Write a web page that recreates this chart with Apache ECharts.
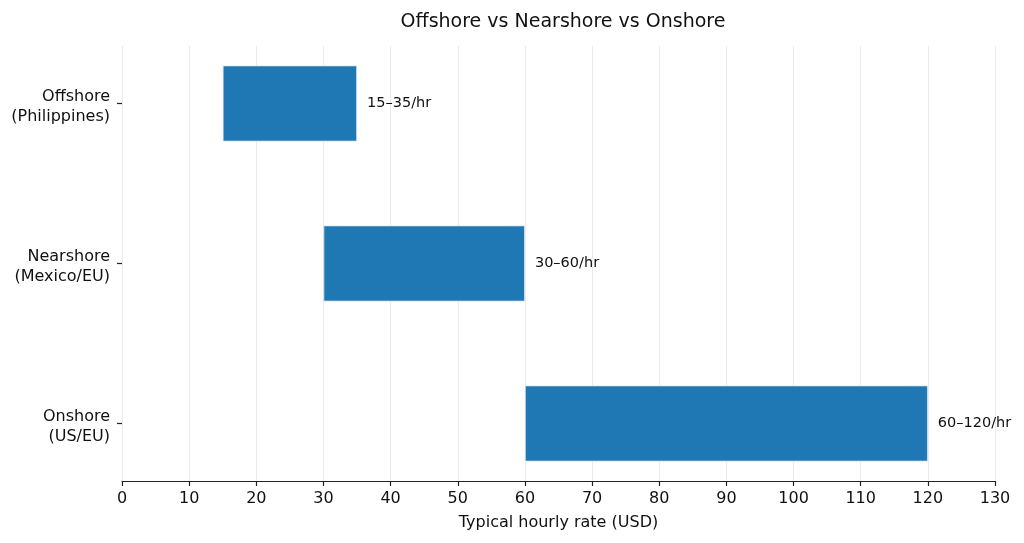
<!DOCTYPE html>
<html>
<head>
<meta charset="utf-8">
<script src="https://cdn.jsdelivr.net/npm/echarts@6/dist/echarts.min.js"></script>
<style>
  html, body { margin: 0; padding: 0; background: #fff; }
  #chart { width: 1024px; height: 543px; }
</style>
</head>
<body>
<div id="chart"></div>
<script>
// categories (top to bottom) and rate ranges in USD/hr
var categories = ["Offshore\n(Philippines)", "Nearshore\n(Mexico/EU)", "Onshore\n(US/EU)"];
var rateLow = [15, 30, 60];
var rateHigh = [35, 60, 120];
var rangeLabels = ["15–35/hr", "30–60/hr", "60–120/hr"];
var xTicks = { min: 0, max: 130, interval: 10 };

var FONT = "DejaVu Sans";
var spans = rateHigh.map(function (h, i) { return h - rateLow[i]; });

var chart = echarts.init(document.getElementById("chart"), null, { renderer: "canvas" });

var option = {
  animation: false,
  backgroundColor: "#ffffff",
  title: {
    text: "Offshore vs Nearshore vs Onshore",
    left: 558,
    top: 8,
    textAlign: "center",
    textStyle: { fontFamily: FONT, fontSize: 19, fontWeight: "normal", color: "#111" }
  },
  grid: [
    // grid 0: the visible x axis + vertical grid lines
    { left: 122, right: 29, top: 46, height: 435, containLabel: false },
    // grid 1: category band layout for the bars (160px per category)
    { left: 122, right: 29, top: 23.5, height: 480, containLabel: false },
    // grid 2: same bands, nudged down a little, only for the y labels
    { left: 122, right: 29, top: 27, height: 480, containLabel: false }
  ],
  xAxis: [
    {
      gridIndex: 0, type: "value",
      min: xTicks.min, max: xTicks.max, interval: xTicks.interval,
      name: "Typical hourly rate (USD)",
      nameLocation: "middle", nameGap: 34,
      nameTextStyle: { fontFamily: FONT, fontSize: 16, color: "#111" },
      axisLine: { show: true, lineStyle: { color: "#222", width: 1.2 } },
      axisTick: { show: true, length: 5, lineStyle: { color: "#222", width: 1.2 } },
      axisLabel: { fontFamily: FONT, fontSize: 16, color: "#111", margin: 10 },
      splitLine: { show: true, lineStyle: { color: "#ebebeb", width: 1 } }
    },
    { gridIndex: 1, type: "value", min: xTicks.min, max: xTicks.max, show: false },
    { gridIndex: 2, type: "value", min: xTicks.min, max: xTicks.max, show: false }
  ],
  yAxis: [
    { gridIndex: 0, type: "value", show: false },
    {
      gridIndex: 1, type: "category", data: categories, inverse: true,
      axisLine: { show: false },
      axisTick: { show: true, alignWithLabel: true, length: 5, lineStyle: { color: "#222", width: 1.2 } },
      axisLabel: { show: false },
      splitLine: { show: false }
    },
    {
      gridIndex: 2, type: "category", data: categories, inverse: true,
      axisLine: { show: false },
      axisTick: { show: false },
      axisLabel: { fontFamily: FONT, fontSize: 16, color: "#111", margin: 12, lineHeight: 20, align: "right" },
      splitLine: { show: false }
    }
  ],
  series: [
    {
      type: "bar", xAxisIndex: 1, yAxisIndex: 1, stack: "range",
      data: rateLow, barWidth: 76,
      itemStyle: { color: "transparent" },
      silent: true
    },
    {
      type: "bar", xAxisIndex: 1, yAxisIndex: 1, stack: "range",
      data: spans, barWidth: 76,
      itemStyle: { color: "#1f77b4", borderColor: "#d6e4ef", borderWidth: 0.8 },
      label: {
        show: true, position: "right", distance: 10,
        fontFamily: FONT, fontSize: 14.5, color: "#111",
        formatter: function (p) { return rangeLabels[p.dataIndex]; }
      }
    }
  ]
};

chart.setOption(option);
</script>
</body>
</html>
